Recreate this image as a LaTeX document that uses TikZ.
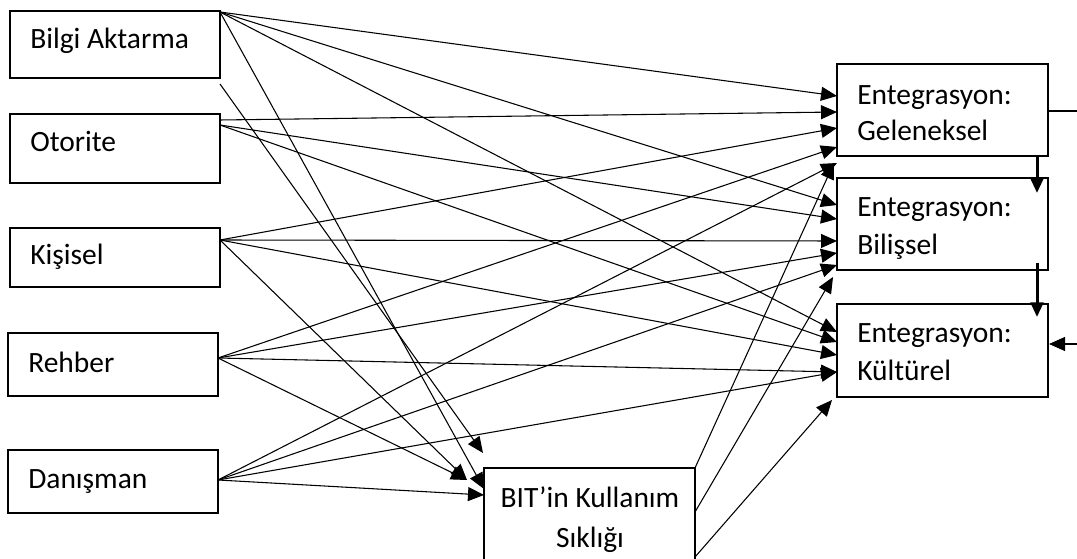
\documentclass[tikz,border=0pt]{standalone}
\usepackage{fontspec}
\setmainfont{Carlito}
\usetikzlibrary{arrows.meta,calc}
\begin{document}
\begin{tikzpicture}[x=0.75pt,y=-0.75pt,
  box/.style={draw=black, line width=0.8pt, anchor=north west, inner sep=0pt, outer sep=0pt},
  lbl/.style={anchor=base west, inner sep=0pt, font=\fontsize{22.1pt}{26pt}\selectfont},
  clbl/.style={anchor=base, inner sep=0pt, font=\fontsize{22.1pt}{26pt}\selectfont},
  arr/.style={line width=0.8pt, -{Triangle[length=12pt,width=10.5pt]}},
  thk/.style={line width=2.25pt, -{Triangle[length=11pt,width=9.5pt]}},
  ln/.style={line width=0.8pt}]
\useasboundingbox (0,0) rectangle (1077,559);
\clip (0,0) rectangle (1077,559);

% boxes
\node[box, minimum width=157.5pt, minimum height=50.25pt] (bilgi) at (10,11) {};
\node[box, minimum width=157.5pt, minimum height=51.75pt] (otorite) at (10,114) {};
\node[box, minimum width=157.5pt, minimum height=44.25pt] (kisisel) at (10,228) {};
\node[box, minimum width=157.5pt, minimum height=47.25pt] (rehber) at (8,333) {};
\node[box, minimum width=157.5pt, minimum height=47.25pt] (danisman) at (8,450) {};
\node[box, minimum width=158.25pt, minimum height=69pt] (gel) at (837,64) {};
\node[box, minimum width=158.25pt, minimum height=69pt] (bil) at (837,178) {};
\node[box, minimum width=158.25pt, minimum height=69.75pt] (kul) at (837,304) {};
\node[box, minimum width=158.25pt, minimum height=90pt] (bit) at (484,468) {};

% labels
\node[lbl] (tbilgi) at (30,49) {Bilgi Aktarma};
\node[lbl] (totorite) at (30,152) {Otorite};
\node[lbl] (tkisisel) at (30,265) {Kişisel};
\node[lbl] (trehber) at (28,372) {Rehber};
\node[lbl] (tdanisman) at (28,488) {Danışman};
\node[lbl] (tgela) at (857,105) {Entegrasyon:};
\node[lbl] (tgelb) at (857,141) {Geleneksel};
\node[lbl] (tbila) at (857,217) {Entegrasyon:};
\node[lbl] (tbilb) at (857,255) {Bilişsel};
\node[lbl] (tkula) at (857,343) {Entegrasyon:};
\node[lbl] (tkulb) at (857,380) {Kültürel};
\node[clbl] (tbita) at (590,507) {BIT’in Kullanım};
\node[clbl] (tbitb) at (590,547) {Sıklığı};

% free coordinates
\coordinate (bfree) at (220,84);
\coordinate (gout) at (1077,111);
\coordinate (kin) at (1077,344);

% Bilgi Aktarma
\draw[arr] ($(bilgi.north east)+(0,1)$) -- ($(gel.north west)+(0,32)$);
\draw[arr] ($(bilgi.north east)+(0,1)$) -- ($(bil.north west)+(0,27)$);
\draw[arr] ($(bilgi.north east)+(0,1)$) -- ($(kul.north west)+(0,28)$);
\draw[arr] ($(bilgi.north east)+(0,1)$) -- ($(bit.north west)+(0,21)$);
\draw[arr] (bfree) -- ($(bit.north west)+(-1,-15)$);

% Otorite
\draw[arr] ($(otorite.north east)+(0,6)$) -- ($(gel.north west)+(0,48)$);
\draw[arr] ($(otorite.north east)+(0,11)$) -- ($(bil.north west)+(0,41)$);
\draw[arr] ($(otorite.north east)+(0,11)$) -- ($(kul.north west)+(0,38)$);

% Kisisel
\draw[arr] ($(kisisel.north east)+(0,12)$) -- ($(gel.north west)+(0,64)$);
\draw[arr] ($(kisisel.north east)+(0,12)$) -- ($(bil.north west)+(0,63)$);
\draw[arr] ($(kisisel.north east)+(0,12)$) -- ($(kul.north west)+(0,51)$);
\draw[arr] ($(kisisel.north east)+(0,12)$) -- ($(bit.north west)+(-17,12)$);

% Rehber
\draw[arr] ($(rehber.north east)+(0,25)$) -- ($(gel.north west)+(0,83)$);
\draw[arr] ($(rehber.north east)+(0,25)$) -- ($(bil.north west)+(0,75)$);
\draw[arr] ($(rehber.north east)+(0,25)$) -- ($(kul.north west)+(0,68)$);
\draw[arr] ($(rehber.north east)+(0,25)$) -- ($(bit.north west)+(-17,12)$);

% Danisman
\draw[arr] ($(danisman.north east)+(0,30)$) -- ($(gel.north west)+(0,99)$);
\draw[arr] ($(danisman.north east)+(0,30)$) -- ($(bil.north west)+(0,87)$);
\draw[arr] ($(danisman.north east)+(0,30)$) -- ($(kul.north west)+(0,68)$);
\draw[arr] ($(danisman.north east)+(0,30)$) -- ($(bit.north west)+(0,27)$);

% BIT
\draw[arr] (bit.north east) -- ($(gel.north west)+(-3,99)$);
\draw[arr] ($(bit.north east)+(0,44)$) -- ($(bil.south west)+(-4,7)$);
\draw[arr] ($(bit.north east)+(0,89)$) -- ($(kul.south west)+(-5,3)$);

% thick vertical arrows
\draw[thk] ($(gel.south east)+(-11,0)$) -- ($(bil.north east)+(-11,15)$);
\draw[thk] ($(bil.south east)+(-11,-7)$) -- ($(kul.north east)+(-11,13)$);

% right side
\draw[ln] ($(gel.north east)+(0,47)$) -- (gout);
\draw[arr] (kin) -- ($(kul.north east)+(1,40)$);
\end{tikzpicture}
\end{document}
